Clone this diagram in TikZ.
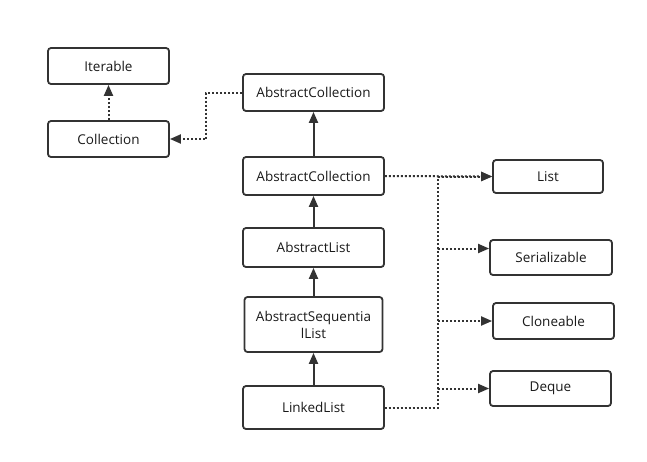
\documentclass[tikz,border=0pt]{standalone}
\usepackage{fontspec}
\setmainfont{Open Sans}
\usetikzlibrary{arrows.meta}
\begin{document}
\begin{tikzpicture}
      [x=1pt,y=-1pt,
      every node/.style={draw=black!80, line width=1.8pt, rounded corners=3pt, inner sep=0pt,
        text=black!90, font=\fontsize{13.5}{17}\selectfont, align=center},
      cls/.style n args={2}{minimum width=#1pt, minimum height=#2pt},
      inherit/.style={draw=black!80, line width=2pt, -{Triangle[length=11pt,width=9pt]}},
      impl/.style={inherit, dash pattern=on 2pt off 2pt},
      ]
      \useasboundingbox (0,0) rectangle (647,461);
      \node[cls={121}{36}] (iter) at (108.5,66) {Iterable};
      \node[cls={121}{36}] (coll) at (108.5,139) {Collection};
      \node[cls={141}{37}] (abscoll) at (313.5,92.5) {AbstractCollection};
      \node[cls={141}{38}] (abscoll2) at (313.5,176) {AbstractCollection};
      \node[cls={141}{39}] (abslist) at (313.5,247.5) {AbstractList};
      \node[cls={138}{55}] (absseq) at (313.5,324.5) {AbstractSequentia\\lList};
      \node[cls={141}{43}] (linked) at (313.5,407.5) {LinkedList};
      \node[cls={110}{33}] (list) at (548,176.5) {List};
      \node[cls={122}{35}] (ser) at (551,257.5) {Serializable};
      \node[cls={121}{36}] (clone) at (553.5,321) {Cloneable};
      \node[cls={121}{35}] (deque) at (550.5,388.5) {Deque};
      % solid: extends
      \draw[inherit] (abscoll2) -- (abscoll);
      \draw[inherit] (abslist) -- (abscoll2);
      \draw[inherit] (absseq) -- (abslist);
      \draw[inherit] (linked) -- (absseq);
      % dotted: implements
      \draw[impl] (coll) -- (iter);
      \draw[impl] (abscoll.west) -- ++(-36,0) |- (coll.east);
      \draw[impl] (abscoll2.east) -- (list.west);
      \draw[impl] (linked.east) -- ++(53,0) |- (list.west);
      \draw[impl] (linked.east) -- ++(53,0) |- ([yshift=9pt]ser.west);
      \draw[impl] (linked.east) -- ++(53,0) |- (clone.west);
      \draw[impl] (linked.east) -- ++(53,0) |- (deque.west);
\end{tikzpicture}
\end{document}
